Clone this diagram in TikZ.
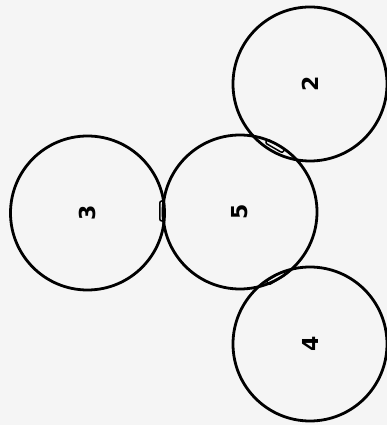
\documentclass[tikz,border=0pt]{standalone}
\usepackage{fontspec}
\newfontfamily\digitfont{DejaVu Sans}
\usetikzlibrary{shapes.geometric}
\definecolor{paper}{RGB}{245,245,245}
\begin{document}
\begin{tikzpicture}[x=1pt,y=1pt,
  disc/.style={circle,draw,line width=2.8pt,minimum size=154pt,inner sep=0pt,rotate=90,
    font=\fontsize{22}{22}\selectfont\digitfont\bfseries},
  pad/.style={rectangle,draw,line width=1.5pt,rounded corners=2pt,minimum width=20pt,minimum height=4.5pt,inner sep=0pt}]
\fill[paper] (0,0) rectangle (387,425);
\useasboundingbox (0,0) rectangle (387,425);
\node[disc] (c2) at (310,341) {2};
\node[disc] (c5) at (240,213) {5};
\node[disc] (c3) at (87.5,212) {3};
\node[disc] (c4) at (310,81) {4};
\node[pad,rotate=90] (p35) at (162,214) {};
\node[pad,rotate=-30] (p52) at (275,279) {};
\node[pad,rotate=31] (p54) at (276,147) {};
\end{tikzpicture}
\end{document}
